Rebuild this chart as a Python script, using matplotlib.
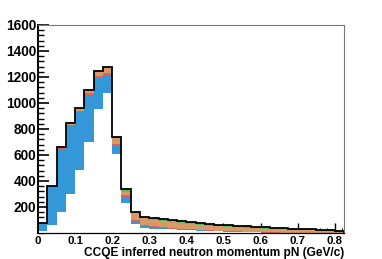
import matplotlib
matplotlib.use("Agg")
import matplotlib.pyplot as plt
import numpy as np

# binning of the stacked histogram (GeV/c)
bin_width = 0.025
edges = np.arange(0, 0.825 + 1e-9, bin_width)

# stacked components, bottom to top
white = [15, 61, 159, 300, 485, 697, 951, 1074, 605, 228, 67,
         36, 33, 30, 27, 24, 21, 18, 15, 12, 10, 8, 6, 4, 3, 2, 1, 0, 0, 0, 0, 0, 0]
blue = [60, 300, 490, 523, 443, 362, 239, 141, 64, 47, 23,
        16, 12, 8, 6, 4, 3, 2, 2, 1, 1, 1, 1, 1, 0, 0, 0, 0, 0, 0, 0, 0, 0]
red = [0, 1, 3, 7, 10, 15, 17, 18, 16, 17, 10,
       10, 9, 8, 7, 6, 5, 5, 4, 4, 3, 3, 2, 2, 2, 2, 2, 2, 1, 1, 1, 1, 1]
tan = [0, 2, 7, 18, 26, 26, 38, 34, 45, 26, 57,
       50, 48, 46, 44, 42, 39, 37, 35, 33, 32, 31, 30, 30, 29, 27, 25, 24, 22, 20, 17, 15, 13]
green = [0, 0, 0, 0, 0, 0, 3, 12, 11, 18, 8,
         14, 14, 14, 13, 13, 13, 12, 12, 12, 12, 11, 11, 10, 10, 9, 9, 8, 8, 7, 7, 6, 5]

layers = [white, blue, red, tan, green]
colors = ["white", "#3498d8", "#e0605e", "#d69a66", "#5cbf5c"]

fig = plt.figure(figsize=(3.82, 2.59), dpi=100)
ax = fig.add_axes([0.0995, 0.1004, 0.801, 0.8031])

bottom = np.zeros(len(edges) - 1)
for vals, col in zip(layers, colors):
    vals = np.array(vals, dtype=float)
    ax.bar(edges[:-1], vals, width=bin_width, bottom=bottom, align="edge",
           color=col, linewidth=0, zorder=1)
    bottom += vals

# total outline
ax.stairs(bottom, edges, color="black", lw=1.3, zorder=2)

ax.set_xlim(0, 0.825)
ax.set_ylim(0, 1600)
ax.set_axisbelow(True)

ax.xaxis.set_major_locator(plt.MultipleLocator(0.1))
ax.xaxis.set_minor_locator(plt.MultipleLocator(0.02))
ax.yaxis.set_major_locator(plt.FixedLocator(np.arange(200, 1601, 200)))
ax.yaxis.set_minor_locator(plt.MultipleLocator(40))


def xfmt(value, tick_number):
    if abs(value) < 1e-9:
        return "0"
    return "{0:.1f}".format(value)


ax.xaxis.set_major_formatter(plt.FuncFormatter(xfmt))
ax.tick_params(which="major", direction="in", length=7, width=1.0, color="black")
ax.tick_params(which="minor", direction="in", length=3.5, width=0.8, color="black")
ax.tick_params(axis="y", which="major", length=8, width=1.2)
ax.tick_params(axis="y", which="minor", length=4, width=1.0)
ax.tick_params(axis="x", labelsize=8.2, pad=2)
ax.tick_params(axis="y", labelsize=9.8, pad=1.5)
for lab in ax.get_xticklabels() + ax.get_yticklabels():
    lab.set_fontfamily("Liberation Sans")
    lab.set_fontweight("bold")

ax.spines["left"].set_linewidth(1.4)
ax.spines["bottom"].set_linewidth(0.9)
ax.spines["top"].set_color("#777777")
ax.spines["right"].set_color("#777777")
ax.spines["top"].set_linewidth(0.8)
ax.spines["right"].set_linewidth(0.8)

ax.set_xlabel("CCQE inferred neutron momentum pN (GeV/c)", fontsize=8.6,
              fontweight="bold", family="Liberation Sans", loc="right", labelpad=0.8)

fig.savefig("out.png", dpi=100)
